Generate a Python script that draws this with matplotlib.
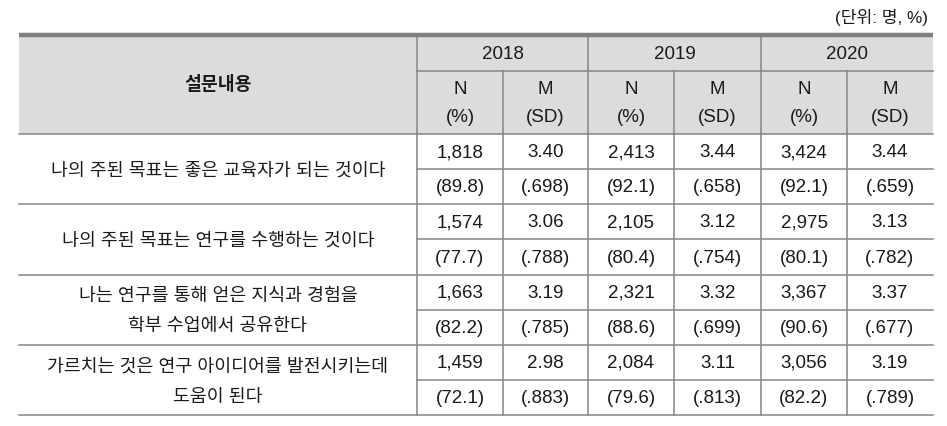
import matplotlib
matplotlib.use("Agg")
import matplotlib.pyplot as plt
from matplotlib.patches import Rectangle

plt.rcParams['font.family'] = ['Liberation Sans', 'Noto Sans CJK KR', 'DejaVu Sans']

unit_note = "(단위: 명, %)"
header_item = "설문내용"
years = ["2018", "2019", "2020"]
sub_headers = [("N", "(%)"), ("M", "(SD)")]

questions = [
    "나의 주된 목표는 좋은 교육자가 되는 것이다",
    "나의 주된 목표는 연구를 수행하는 것이다",
    "나는 연구를 통해 얻은 지식과 경험을\n학부 수업에서 공유한다",
    "가르치는 것은 연구 아이디어를 발전시키는데\n도움이 된다",
]
n_2018 = ["1,818", "1,574", "1,663", "1,459"]
pct_2018 = ["(89.8)", "(77.7)", "(82.2)", "(72.1)"]
m_2018 = ["3.40", "3.06", "3.19", "2.98"]
sd_2018 = ["(.698)", "(.788)", "(.785)", "(.883)"]
n_2019 = ["2,413", "2,105", "2,321", "2,084"]
pct_2019 = ["(92.1)", "(80.4)", "(88.6)", "(79.6)"]
m_2019 = ["3.44", "3.12", "3.32", "3.11"]
sd_2019 = ["(.658)", "(.754)", "(.699)", "(.813)"]
n_2020 = ["3,424", "2,975", "3,367", "3,056"]
pct_2020 = ["(92.1)", "(80.1)", "(90.6)", "(82.2)"]
m_2020 = ["3.44", "3.13", "3.37", "3.19"]
sd_2020 = ["(.659)", "(.782)", "(.677)", "(.789)"]

W, H = 947, 426
fig = plt.figure(figsize=(W / 100, H / 100), dpi=100)
ax = fig.add_axes([0, 0, 1, 1])
ax.set_xlim(0, W)
ax.set_ylim(H, 0)
ax.axis('off')

line_c = '#858585'
fs = 13.5
fsk = 13.2
tc = '#1a1a1a'

left, right = 19, 933
qcol = 417
year_edges = [417, 588, 761, 933]
splits = [503, 674, 847]
top = 36
year_bottom = 71
head_bottom = 134
row_h = 70.3

ax.add_patch(Rectangle((left, top), right - left, head_bottom - top, facecolor='#dcdcdc', edgecolor='none', zorder=0))
ax.plot([left, right], [top - 1, top - 1], color='#7f7f7f', lw=3.2, solid_capstyle='butt', zorder=3)

ax.text(928, 17, unit_note, ha='right', va='center', fontsize=12.3, color=tc)

ax.text((left + qcol) / 2, (top + head_bottom) / 2, header_item, ha='center', va='center', fontsize=fsk, color=tc, fontweight='bold')
for i, y in enumerate(years):
    ax.text((year_edges[i] + year_edges[i + 1]) / 2, (top + year_bottom) / 2 + 1, y, ha='center', va='center', fontsize=fs, color=tc)
    cols = [(year_edges[i], splits[i]), (splits[i], year_edges[i + 1])]
    for (a, b), (l1, l2) in zip(cols, sub_headers):
        cx = (a + b) / 2
        ax.text(cx, 90, l1, ha='center', va='center', fontsize=fs, color=tc)
        ax.text(cx, 117, l2, ha='center', va='center', fontsize=fs, color=tc)

lw = 1.1
ax.plot([qcol, right], [year_bottom, year_bottom], color=line_c, lw=lw)
ax.plot([left, right], [head_bottom, head_bottom], color=line_c, lw=lw)
for x in year_edges[:-1]:
    ax.plot([x, x], [top, head_bottom], color=line_c, lw=lw)
for x in splits:
    ax.plot([x, x], [year_bottom, head_bottom], color=line_c, lw=lw)

data_cols = [(n_2018, pct_2018), (m_2018, sd_2018), (n_2019, pct_2019),
             (m_2019, sd_2019), (n_2020, pct_2020), (m_2020, sd_2020)]
col_edges = [417, 503, 588, 674, 761, 847, 933]
for r, q in enumerate(questions):
    y0 = head_bottom + r * row_h
    ymid = y0 + row_h / 2
    ax.text((left + qcol) / 2, ymid + 2, q, ha='center', va='center', fontsize=fsk, color=tc, linespacing=2.02)
    for c, (top_vals, bot_vals) in enumerate(data_cols):
        cx = (col_edges[c] + col_edges[c + 1]) / 2
        ax.text(cx, y0 + row_h * 0.25 + 1, top_vals[r], ha='center', va='center', fontsize=fs, color=tc)
        ax.text(cx, y0 + row_h * 0.75 + 1, bot_vals[r], ha='center', va='center', fontsize=fs, color=tc)
    ax.plot([qcol, right], [ymid, ymid], color=line_c, lw=lw)
    ax.plot([left, right], [y0 + row_h, y0 + row_h], color=line_c, lw=lw)

bottom = head_bottom + 4 * row_h
for x in col_edges[:-1]:
    ax.plot([x, x], [head_bottom, bottom], color=line_c, lw=lw)

fig.savefig('out.png', dpi=100)
